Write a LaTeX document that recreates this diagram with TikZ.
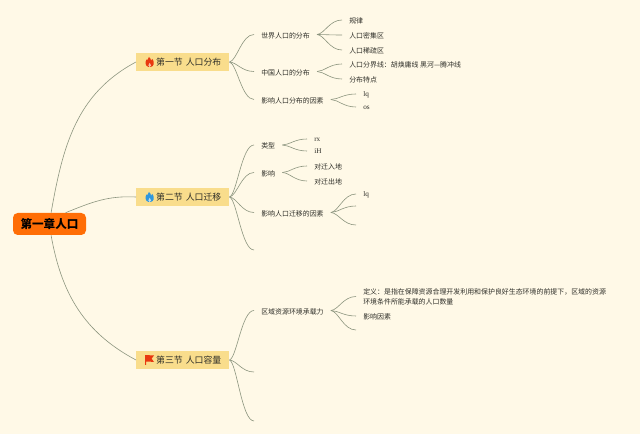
\documentclass[tikz,border=0pt]{standalone}
\usepackage{fontspec}
\setmainfont{Noto Sans CJK SC}
\newfontfamily\latinfont{Liberation Serif}
\usepackage{xcolor}
\usetikzlibrary{calc}
\definecolor{paper}{HTML}{FFF9E7}
\definecolor{rootfill}{HTML}{FF6E06}
\definecolor{secfill}{HTML}{F9DD8C}
\definecolor{twig}{HTML}{8C957F}
\definecolor{ink}{HTML}{2E2E28}
\definecolor{flamered}{HTML}{E8380F}
\definecolor{flameblue}{HTML}{2F97DE}
\tikzset{
    rootbox/.style={draw=none,fill=rootfill,rounded corners=3.5pt,minimum width=54.75pt,minimum height=16.5pt,inner sep=0pt,text height=8.5pt,text depth=1pt,font=\fontsize{8.7}{10}\selectfont\bfseries,text=black},
    secbox/.style={anchor=west,fill=secfill,minimum height=13.5pt,inner xsep=6pt,inner ysep=0pt,text width=57.75pt,align=right,text height=6.6pt,text depth=0.7pt,font=\fontsize{6.65}{8}\selectfont,text=ink},
    leaf/.style={anchor=west,inner xsep=5.25pt,inner ysep=0pt,font=\fontsize{5.2}{7.5}\selectfont,text=ink},
    leafline/.style={leaf,text height=5.9pt,text depth=0.5pt},
    twigline/.style={draw=twig,line width=0.45pt},
    branch/.style={twigline,to path={let \p1=(\tikztostart),\p2=(\tikztotarget) in .. controls ({\x1+0.3*(\x2-\x1)},{\y1+0.05*(\y2-\y1)}) and ({\x1+0.5*(\x2-\x1)},\y2) .. (\p2)}}
}
\begin{document}
\begin{tikzpicture}[x=0.75pt,y=0.75pt]
\useasboundingbox[fill=paper] (0,0) rectangle (640,-434);
\node[rootbox] (root) at (49.5,-224) {第一章人口};
\foreach \y/\p/\labeltext in {-62/secone/{第一节 人口分布}, -197/sectwo/{第二节 人口迁移}, -360/secthree/{第三节 人口容量}}{
    \node[secbox] (\p) at (136,\y) {\labeltext};
}
% second level
\foreach \x/\y/\p/\labeltext in {254/-34.5/world/{世界人口的分布}, 254/-71.5/china/{中国人口的分布}, 254/-99.5/factors/{影响人口分布的因素},
    254/-145/kinds/{类型}, 254/-172.5/effect/{影响}, 254/-212.5/movefactors/{影响人口迁移的因素},
    254/-310.5/capacity/{区域资源环境承载力}}{
    \node[leafline] (\p) at (\x,\y) {\labeltext};
}
% third level
\foreach \x/\y/\p/\labeltext in {342/-20/rule/{规律}, 342/-35/dense/{人口密集区}, 342/-50/sparse/{人口稀疏区},
    342/-64/divide/{人口分界线：胡焕庸线 黑河—腾冲线}, 342/-79/traits/{分布特点},
    307/-166/inflow/{对迁入地}, 307/-181/outflow/{对迁出地},
    356/-316/capfactors/{影响因素}}{
    \node[leafline] (\p) at (\x,\y) {\labeltext};
}
\foreach \x/\y/\p/\labeltext in {356/-94/facta/{lq}, 356/-107/factb/{os}, 307/-139/kinda/{rx}, 307/-151/kindb/{iH}, 356/-194/movea/{lq}}{
    \node[leaf,text height=4.6pt,text depth=0.8pt,font=\fontsize{5.4}{7}\selectfont\latinfont] (\p) at (\x,\y) {\labeltext};
}
\node[leaf,text width=181.5pt,align=left] (define) at (356,-296.5) {定义：是指在保障资源合理开发利用和保护良好生态环境的前提下，区域的资源\\环境条件所能承载的人口数量};
% empty ends
\foreach \x/\y/\p in {254/-250/moveempty, 356/-206/moveb, 356/-225/movec, 254/-372/capempty, 254/-421/capend, 356/-330/capleaf}{
    \coordinate (\p) at (\x,\y);
}
% root curves
\draw[twigline] (root.82) to[out=80,in=208] (secone.west);
\draw[twigline] (root.35) to[out=22,in=177] (sectwo.west);
\draw[twigline] (root.-82) to[out=-80,in=152] (secthree.west);
% branches
\foreach \a/\b in {secone/world.west, secone/china.west, secone/factors.west, world/rule.west, world/dense.west, world/sparse.west, china/divide.west, china/traits.west, factors/facta.west, factors/factb.west,
    sectwo/kinds.west, sectwo/effect.west, sectwo/movefactors.west, sectwo/moveempty, kinds/kinda.west, kinds/kindb.west, effect/inflow.west, effect/outflow.west, movefactors/movea.west, movefactors/moveb, movefactors/movec,
    secthree/capacity.west, secthree/capempty, secthree/capend, capacity/define.west, capacity/capfactors.west, capacity/capleaf}{
    \draw[branch] (\a.east) to (\b);
}
% icons
\foreach \y/\c in {-62/flamered, -197/flameblue}{
    \begin{scope}[shift={(149.5,\y)}]
    \fill[\c] (-1,-5) .. controls (3,-5.5) and (4.8,-3) .. (4.2,0) .. controls (4,1.5) and (3.2,2.5) .. (2.8,3) .. controls (2.4,2) and (2,1.6) .. (1.5,1.4) .. controls (1.5,3) and (0.5,4.3) .. (-0.5,5) .. controls (-0.6,3.5) and (-1.6,2.4) .. (-2.4,1.6) .. controls (-2.6,2) and (-2.8,2.4) .. (-3,2.6) .. controls (-4.4,0) and (-4.6,-4) .. (-1,-5) -- cycle;
    \fill[paper!70!\c] (0.2,-5) .. controls (2,-5) and (2.2,-2.6) .. (0.2,-0.8) .. controls (-1.6,-2.4) and (-1.8,-5) .. (0.2,-5) -- cycle;
    \end{scope}
}
\fill[flamered] (145,-355) .. controls (148,-356) and (151,-354.5) .. (154,-355.5) -- (151.6,-358.6) -- (154,-362) .. controls (151,-361) and (149,-362.2) .. (146.2,-361.6) -- (146.2,-365) -- (145,-365) -- cycle;
\end{tikzpicture}
\end{document}
